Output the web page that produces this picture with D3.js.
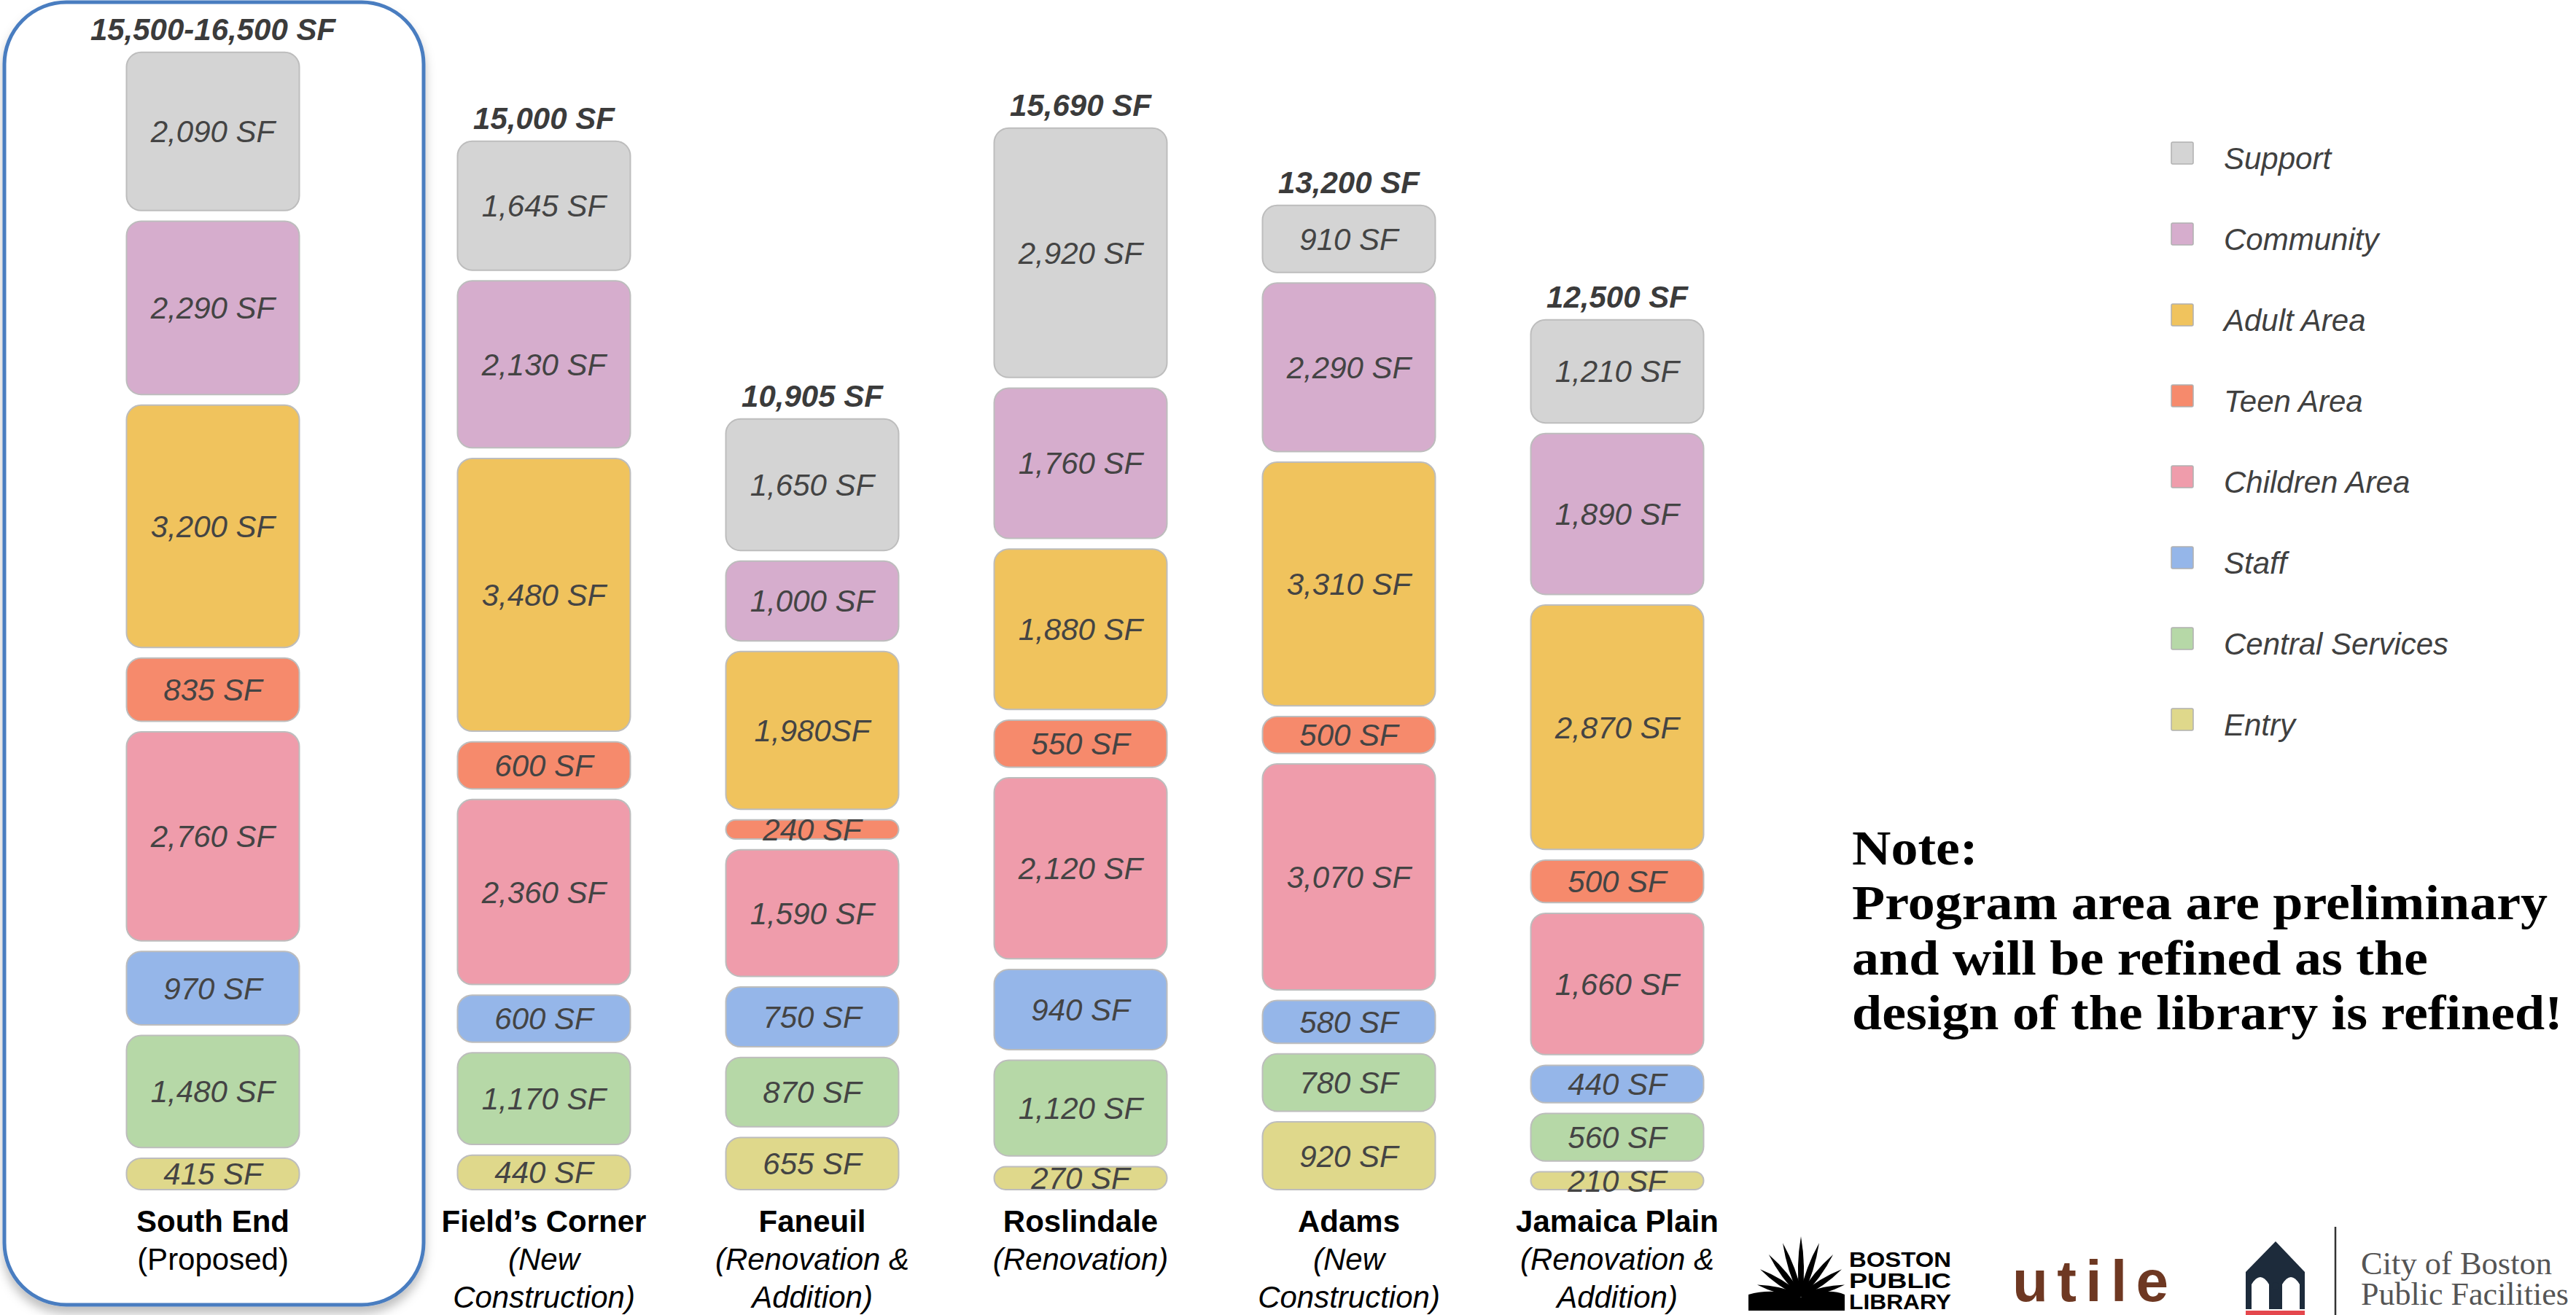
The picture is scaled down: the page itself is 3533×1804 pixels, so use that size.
<!DOCTYPE html>
<html>
<head>
<meta charset="utf-8">
<script src="https://cdn.jsdelivr.net/npm/d3@7"></script>
<style>
  body { margin: 0; background: #fff; }
  svg { display: block; }
</style>
</head>
<body>
<div id="chart"></div>
<script>
// Libraries (columns) and their captions
const libraries = ['South End', 'Field\u2019s Corner', 'Faneuil', 'Roslindale', 'Adams', 'Jamaica Plain']
const subtitles = [
  ['(Proposed)'],
  ['(New', 'Construction)'],
  ['(Renovation &', 'Addition)'],
  ['(Renovation)'],
  ['(New', 'Construction)'],
  ['(Renovation &', 'Addition)']
]
const totalLabels = ['15,500-16,500 SF', '15,000 SF', '10,905 SF', '15,690 SF', '13,200 SF', '12,500 SF']

// Program areas, top of the stack first
const areas = ['Support', 'Community', 'Adult Area', 'Teen Area', 'Children Area', 'Staff', 'Central Services', 'Entry']

// Square feet per area, one value per library
const support = [2090, 1645, 1650, 2920, 910, 1210]
const community = [2290, 2130, 1000, 1760, 2290, 1890]
const adultArea = [3200, 3480, 1980, 1880, 3310, 2870]
const teenArea = [835, 600, 240, 550, 500, 500]
const childrenArea = [2760, 2360, 1590, 2120, 3070, 1660]
const staff = [970, 600, 750, 940, 580, 440]
const centralServices = [1480, 1170, 870, 1120, 780, 560]
const entry = [415, 440, 655, 270, 920, 210]

const noteLines = ['Note:', 'Program area are preliminary', 'and will be refined as the', 'design of the library is refined!']

const series = {
  'Support': support,
  'Community': community,
  'Adult Area': adultArea,
  'Teen Area': teenArea,
  'Children Area': childrenArea,
  'Staff': staff,
  'Central Services': centralServices,
  'Entry': entry
}

// Layout
const width = 3533
const height = 1804
const baseY = 1632
const gap = 14.6
const barW = 237
// each column in the original is drawn at its own vertical scale
const stackHeights = [1458, 1336, 955, 1354, 1248, 1091]
const proposedOffset = 454

const colours = {
  'Support': '#d4d4d4',
  'Community': '#d6adcd',
  'Adult Area': '#f0c35d',
  'Teen Area': '#f68a6c',
  'Children Area': '#ef9cab',
  'Staff': '#95b6e9',
  'Central Services': '#b6d8a7',
  'Entry': '#dfd88b'
}

const fmt = d3.format(',')
const label = (area, i, v) => (area === 'Adult Area' && i === 2) ? fmt(v) + 'SF' : fmt(v) + ' SF'

const svg = d3.select('#chart')
  .append('svg')
  .attr('width', width)
  .attr('height', height)
  .style('font-family', '"Liberation Sans", Arial, sans-serif')

const defs = svg.append('defs')
const shadow = defs.append('filter').attr('id', 'shadow')
  .attr('x', '-10%').attr('y', '-10%').attr('width', '120%').attr('height', '120%')
shadow.append('feDropShadow')
  .attr('dx', 0).attr('dy', 10).attr('stdDeviation', 7)
  .attr('flood-color', '#000').attr('flood-opacity', 0.25)

// Outline around the proposed library
svg.append('rect')
  .attr('x', 6).attr('y', 3)
  .attr('width', 575).attr('height', 1787)
  .attr('rx', 85)
  .attr('fill', '#fff')
  .attr('stroke', '#4a7dc0')
  .attr('stroke-width', 5)
  .attr('filter', 'url(#shadow)')

// Column positions
const x = d3.scalePoint().domain(libraries.slice(1)).range([746, 2218])
const xPos = (lib) => lib === libraries[0] ? x(libraries[1]) - proposedOffset : x(lib)

// Stack data, bottom (Entry) first
const rows = libraries.map((lib, i) => {
  const r = { lib, i }
  areas.forEach(a => { r[a] = series[a][i] })
  return r
})
const bottomUp = areas.slice().reverse()
const stacked = d3.stack().keys(bottomUp)(rows)

const yScales = rows.map((r, i) =>
  d3.scaleLinear()
    .domain([0, d3.sum(areas, a => r[a])])
    .range([0, stackHeights[i]]))

const segs = []
stacked.forEach((s, k) => {
  s.forEach(d => {
    const i = d.data.i
    const ys = yScales[i]
    const y1 = baseY - ys(d[1]) - k * gap
    const y0 = baseY - ys(d[0]) - k * gap
    segs.push({ area: s.key, i, lib: d.data.lib, v: d.data[s.key], y: y1, h: y0 - y1 })
  })
})

const g = svg.append('g')

g.selectAll('rect.seg')
  .data(segs)
  .join('rect')
  .attr('class', 'seg')
  .attr('x', d => xPos(d.lib) - barW / 2)
  .attr('y', d => d.y)
  .attr('width', barW)
  .attr('height', d => d.h)
  .attr('rx', d => Math.min(20, d.h / 2))
  .attr('fill', d => colours[d.area])
  .attr('stroke', '#bdbdbd')
  .attr('stroke-width', 2)

g.selectAll('text.seg-label')
  .data(segs)
  .join('text')
  .attr('class', 'seg-label')
  .attr('x', d => xPos(d.lib))
  .attr('y', d => d.y + d.h / 2 + 15)
  .attr('text-anchor', 'middle')
  .attr('font-size', 42)
  .attr('font-style', 'italic')
  .attr('fill', '#444')
  .text(d => label(d.area, d.i, d.v))

// Totals above each stack
g.selectAll('text.total')
  .data(libraries)
  .join('text')
  .attr('class', 'total')
  .attr('x', d => xPos(d))
  .attr('y', (d, i) => baseY - stackHeights[i] - 7 * gap - 17)
  .attr('text-anchor', 'middle')
  .attr('font-size', 42)
  .attr('font-weight', 'bold')
  .attr('font-style', 'italic')
  .attr('fill', '#3b3b3b')
  .text((d, i) => totalLabels[i])

// Library names and subtitles
const cap = g.selectAll('g.cap')
  .data(libraries)
  .join('g')
  .attr('class', 'cap')
  .attr('transform', d => `translate(${xPos(d)},0)`)

cap.append('text')
  .attr('y', 1690)
  .attr('text-anchor', 'middle')
  .attr('font-size', 42)
  .attr('font-weight', 'bold')
  .attr('fill', '#000')
  .text(d => d)

cap.selectAll('text.sub')
  .data((d, i) => subtitles[i].map(t => ({ t, i })))
  .join('text')
  .attr('class', 'sub')
  .attr('y', (d, j) => 1742 + j * 52)
  .attr('text-anchor', 'middle')
  .attr('font-size', 42)
  .attr('font-style', d => d.i === 0 ? 'normal' : 'italic')
  .attr('fill', '#000')
  .text(d => d.t)

// Legend
const ly = d3.scalePoint().domain(areas).range([210, 987])
const legend = svg.append('g')
  .selectAll('g')
  .data(areas)
  .join('g')
  .attr('transform', d => `translate(0,${ly(d)})`)

legend.append('rect')
  .attr('x', 2978).attr('y', -15)
  .attr('width', 30).attr('height', 30)
  .attr('rx', 2)
  .attr('fill', d => colours[d])
  .attr('stroke', '#b0b0b0')
  .attr('stroke-width', 1.5)

legend.append('text')
  .attr('x', 3050).attr('y', 22)
  .attr('font-size', 42)
  .attr('font-style', 'italic')
  .attr('fill', '#404040')
  .text(d => d)

// Note
const note = svg.append('g')
  .attr('font-family', '"Liberation Serif", "Times New Roman", serif')
  .attr('font-weight', 'bold')
  .attr('font-size', 68)
const noteText = note.selectAll('text')
  .data(noteLines)
  .join('text')
  .attr('x', 0)
  .attr('y', (d, i) => 1186 + i * 75.5)
  .attr('fill', '#000')
  .text(d => d)
const longest = d3.max(noteText.nodes(), n => n.getComputedTextLength())
note.attr('transform', `translate(2540,0) scale(${975 / longest},1)`)

// Logos
const logos = svg.append('g')

// Boston Public Library: fan of leaves over an open book
const bpl = logos.append('g')
const fanX = 2470
const fanY = 1778
d3.range(-4, 5).forEach(j => {
  const a = j * 0.33
  const len = 82 - Math.abs(j) * 5
  const tx = fanX + Math.sin(a) * len
  const ty = fanY - Math.cos(a) * len
  const nx = Math.cos(a) * 7
  const ny = Math.sin(a) * 7
  bpl.append('path')
    .attr('d', `M${fanX - nx * 0.3},${fanY - ny * 0.3} Q${(fanX + tx) / 2 - nx},${(fanY + ty) / 2 - ny} ${tx},${ty} Q${(fanX + tx) / 2 + nx},${(fanY + ty) / 2 + ny} ${fanX + nx * 0.3},${fanY + ny * 0.3} Z`)
    .attr('fill', '#000')
})
bpl.append('path')
  .attr('d', 'M2398,1776 Q2434,1766 2470,1780 Q2506,1766 2530,1776 L2530,1798 L2398,1798 Z')
  .attr('fill', '#000')
const bplText = bpl.append('g')
  .attr('font-weight', 'bold')
  .attr('font-size', 30)
  .attr('fill', '#000')
;['BOSTON', 'PUBLIC', 'LIBRARY'].forEach((t, j) => {
  bplText.append('text')
    .attr('x', 2536).attr('y', 1738 + j * 29)
    .attr('textLength', 140)
    .attr('lengthAdjust', 'spacingAndGlyphs')
    .text(t)
})

// utile
logos.append('text')
  .attr('x', 2760).attr('y', 1785)
  .attr('font-size', 80)
  .attr('font-weight', 'bold')
  .attr('fill', '#6e3822')
  .attr('textLength', 214)
  .attr('lengthAdjust', 'spacing')
  .text('utile')

// City of Boston Public Facilities
const cob = logos.append('g')
cob.append('path')
  .attr('d', 'M3121,1703 L3161,1745 L3161,1796 L3080,1796 L3080,1745 Z')
  .attr('fill', '#1d2b3b')
cob.append('path')
  .attr('d', 'M3088,1796 L3088,1762 Q3100,1742 3112,1762 L3112,1796 Z M3130,1796 L3130,1762 Q3142,1742 3154,1762 L3154,1796 Z')
  .attr('fill', '#fff')
cob.append('rect')
  .attr('x', 3112).attr('y', 1772).attr('width', 18).attr('height', 24)
  .attr('fill', '#1d2b3b')
cob.append('circle')
  .attr('cx', 3121).attr('cy', 1764).attr('r', 5)
  .attr('fill', '#1d2b3b')
cob.append('rect')
  .attr('x', 3080).attr('y', 1798).attr('width', 81).attr('height', 6)
  .attr('fill', '#e4474d')
cob.append('line')
  .attr('x1', 3203).attr('x2', 3203)
  .attr('y1', 1683).attr('y2', 1804)
  .attr('stroke', '#333').attr('stroke-width', 2.5)
const cobText = cob.append('g')
  .attr('font-family', '"Liberation Serif", "Times New Roman", serif')
  .attr('font-size', 44)
  .attr('fill', '#555')
cobText.append('text').attr('x', 3238).attr('y', 1748)
  .attr('textLength', 262).attr('lengthAdjust', 'spacingAndGlyphs')
  .text('City of Boston')
cobText.append('text').attr('x', 3238).attr('y', 1790)
  .attr('textLength', 285).attr('lengthAdjust', 'spacingAndGlyphs')
  .text('Public Facilities')
</script>
</body>
</html>
